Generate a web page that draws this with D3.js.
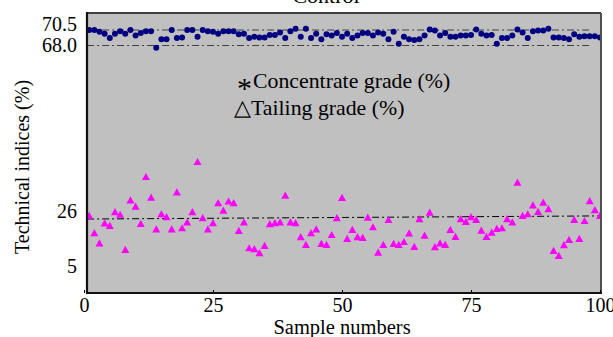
<!DOCTYPE html>
<html><head><meta charset="utf-8">
<script src="https://cdn.jsdelivr.net/npm/d3@7"></script>
<style>
html,body{margin:0;padding:0;background:#fff;}
</style></head>
<body><svg id="c" width="613" height="337" font-family="Liberation Serif"></svg>
<script>
// ---- data ----
const sampleIds = d3.range(1, 101);
const concentrateGrade = [70.5,70.5,70.2,69.9,69.2,69.9,70.3,69.9,70.5,69.6,
  70.0,70.3,70.3,67.4,69.0,69.0,70.5,69.2,69.3,70.5,
  70.5,69.4,70.5,70.3,70.2,69.9,70.3,70.3,70.3,69.8,
  69.9,69.2,69.4,69.3,69.3,69.7,69.7,70.1,69.2,70.3,
  70.7,69.4,70.7,69.2,69.9,69.0,69.8,69.6,70.0,69.4,
  69.9,69.2,69.6,70.0,70.0,69.6,70.1,69.9,69.0,70.2,
  68.3,69.4,69.0,68.9,69.0,69.6,70.6,70.4,69.6,70.0,
  69.4,69.4,69.6,69.6,69.7,70.6,69.9,69.6,69.7,68.3,
  69.2,69.2,69.6,70.6,70.1,69.2,70.3,70.4,70.4,70.7,
  69.3,69.3,69.2,69.0,69.8,69.4,69.5,69.5,69.5,69.3];
const tailingGrade = [24.3,17.6,13.7,21.4,20.4,25.7,24.7,11.2,28.8,27.2,
  21.2,34.7,29.5,19.1,24.9,23.8,19.1,30.8,19.5,21.8,
  25.7,38.5,23.4,19.1,21.5,28.1,26.2,28.5,28.1,18.5,
  21.8,11.8,11.5,9.9,12.7,21.1,21.5,21.8,30.0,21.8,
  21.5,16.1,13.1,17.6,19.1,13.5,13.1,16.9,23.4,29.4,
  15.4,18.9,16.1,15.8,23.6,19.9,10.1,13.1,22.7,13.5,
  13.1,14.2,17.5,12.3,23.0,16.7,25.5,12.2,13.7,13.1,
  18.9,16.2,23.0,22.0,23.8,22.7,18.6,16.2,17.8,19.3,
  19.5,23.0,21.8,33.3,24.3,24.9,27.5,25.8,28.2,26.6,
  10.8,8.9,13.0,15.0,22.7,15.4,22.3,28.6,26.3,24.3];
const xTicks = [0, 25, 50, 75, 100];
const yTicks = [5, 26, 68.0, 70.5];
const yTickLabels = ["5", "26", "68.0", "70.5"];
const limitLines = [
  {x0: 0.6, x1: 98.3, y0: 70.5, y1: 70.5},
  {x0: 0.6, x1: 98.3, y0: 68.0, y1: 68.0}
];
const tailingTrend = [{x0: 0.6, x1: 100, y0: 23.1, y1: 24.3}];
const legendSymbols = ["*", "\u25B3"];
const legendLabels = ["Concentrate grade (%)", "Tailing grade (%)"];
const titleText = "Control";

// ---- layout ----
const FONT = "Liberation Serif";
const svg = d3.select("#c");
const L = 87, R = 601, T = 13, B = 293;
const x = d3.scaleLinear().domain([0, 100]).range([84, 600]);
// broken (piecewise) value axis
const y = d3.scaleLinear().domain([5, 26, 68.0, 70.5]).range([266, 211.5, 45.5, 30]);

svg.append("text").attr("x", 326).attr("y", 3).attr("text-anchor", "middle")
  .attr("font-family", FONT).attr("font-size", 22).text(titleText);

svg.append("rect").attr("x", L).attr("y", T).attr("width", R - L).attr("height", B - T)
  .attr("fill", "#c0c0c0");

svg.append("clipPath").attr("id", "pc").append("rect")
  .attr("x", L).attr("y", T).attr("width", R - L).attr("height", B - T);
const g = svg.append("g").attr("clip-path", "url(#pc)");

g.selectAll("line.lim").data(limitLines).join("line").attr("class", "lim")
  .attr("x1", d => x(d.x0)).attr("x2", d => x(d.x1))
  .attr("y1", d => y(d.y0)).attr("y2", d => y(d.y1))
  .attr("stroke", "#404040").attr("stroke-width", 1).attr("stroke-dasharray", "7,3,2,3");
g.selectAll("line.tr").data(tailingTrend).join("line").attr("class", "tr")
  .attr("x1", d => x(d.x0)).attr("x2", d => x(d.x1))
  .attr("y1", d => y(d.y0)).attr("y2", d => y(d.y1))
  .attr("stroke", "#000").attr("stroke-width", 1).attr("stroke-dasharray", "7,3,2,3");

g.selectAll("circle.c").data(concentrateGrade).join("circle").attr("class", "c")
  .attr("cx", (d, i) => x(sampleIds[i])).attr("cy", d => y(d)).attr("r", 3)
  .attr("fill", "#000080");
g.selectAll("path.t").data(tailingGrade).join("path").attr("class", "t")
  .attr("transform", (d, i) => `translate(${x(sampleIds[i])},${y(d)})`)
  .attr("d", "M0,-4.2L4,3L-4,3Z").attr("fill", "#ff00ff");

// frame
svg.append("line").attr("x1", L).attr("x2", R).attr("y1", T).attr("y2", T).attr("stroke", "#404040").attr("stroke-width", 2);
svg.append("line").attr("x1", R).attr("x2", R).attr("y1", T).attr("y2", B).attr("stroke", "#505050").attr("stroke-width", 2);

// axes
const xAxis = d3.axisBottom(x).tickValues(xTicks).tickSize(0).tickPadding(5).tickFormat(d3.format("d"));
const gx = svg.append("g").attr("transform", `translate(0,${B})`).call(xAxis)
  .attr("font-family", FONT).attr("font-size", 20);
gx.select(".domain").remove();
gx.selectAll(".tick").append("line").attr("y1", 0).attr("y2", -3).attr("stroke", "#000");

const yAxis = d3.axisLeft(y).tickValues(yTicks).tickSize(0).tickPadding(10)
  .tickFormat((d, i) => yTickLabels[i]);
const gy = svg.append("g").attr("transform", `translate(${L},0)`).call(yAxis)
  .attr("font-family", FONT).attr("font-size", 20);
gy.select(".domain").remove();
gy.selectAll("text").attr("dy", d => d === 70.5 ? "0.0em" : "0.32em");

svg.append("line").attr("x1", L).attr("x2", L).attr("y1", T - 1).attr("y2", B + 1).attr("stroke", "#111").attr("stroke-width", 2.2);
svg.append("line").attr("x1", L - 1).attr("x2", R + 1).attr("y1", B).attr("y2", B).attr("stroke", "#111").attr("stroke-width", 2.2);

// axis titles
svg.append("text").attr("x", 342).attr("y", 334).attr("text-anchor", "middle")
  .attr("font-family", FONT).attr("font-size", 20.5).text("Sample numbers");
svg.append("text").attr("transform", "translate(29,167) rotate(-90)").attr("text-anchor", "middle")
  .attr("font-family", FONT).attr("font-size", 20).text("Technical indices (%)");

// legend
const leg = svg.selectAll("text.leg").data(legendLabels).join("text").attr("class", "leg")
  .attr("x", (d, i) => i === 0 ? 237 : 234).attr("y", (d, i) => 88 + i * 27)
  .attr("font-family", FONT).attr("font-size", 21.8);
leg.append("tspan").attr("font-size", (d, i) => i === 0 ? 30 : 21.8)
  .attr("dy", (d, i) => i === 0 ? 10 : 0).text((d, i) => legendSymbols[i]);
leg.append("tspan").attr("dx", (d, i) => i === 0 ? 1 : 0)
  .attr("dy", (d, i) => i === 0 ? -10 : 0).text(d => d);
</script></body></html>
